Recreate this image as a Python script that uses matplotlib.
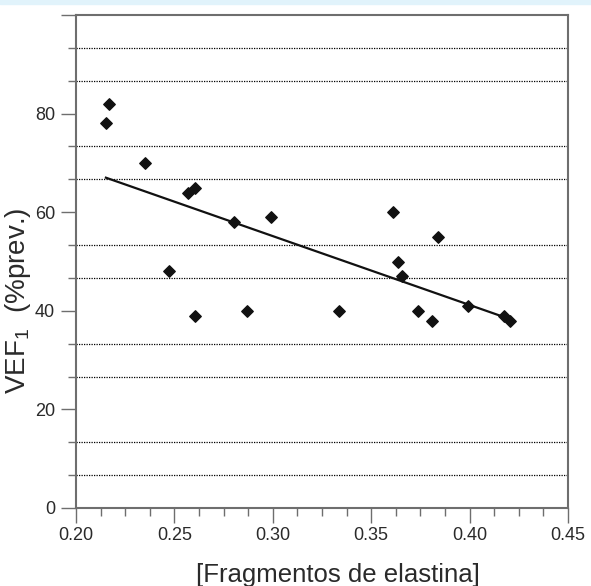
import numpy as np
import matplotlib
matplotlib.use("Agg")
import matplotlib.pyplot as plt
from matplotlib.ticker import MultipleLocator, FixedLocator

# elastin fragments vs FEV1 (% predicted)
frag = [0.2152, 0.2169, 0.2352, 0.2473, 0.2571, 0.2606, 0.2606, 0.2805, 0.2869, 0.2989,
        0.3338, 0.3609, 0.3638, 0.3656, 0.3736, 0.3807, 0.3839, 0.3990, 0.4176, 0.4206]
vef = [78.0, 82.0, 70.0, 48.0, 63.9, 65.0, 38.9, 58.0, 40.0, 59.0,
       40.0, 60.0, 49.9, 47.0, 40.0, 38.0, 55.0, 41.0, 39.0, 38.0]
fit_x = [0.2152, 0.4206]
fit_y = [67.0, 38.3]

xticks = [0.20, 0.25, 0.30, 0.35, 0.40, 0.45]
yticks = [0, 20, 40, 60, 80]

plt.rcParams["font.family"] = ["Liberation Sans", "DejaVu Sans"]
txt = "#2a2a2a"
edge = "#6e6e6e"

fig = plt.figure(figsize=(5.91, 5.86), dpi=100)
fig.patches.append(plt.Rectangle((0, 1 - 4 / 586), 1, 4 / 586, transform=fig.transFigure,
                                 color="#e1f3fb", zorder=0))
ax = fig.add_axes([76 / 591, 1 - 508 / 586, 492 / 591, 493 / 586])

for v in np.arange(20 / 3, 100, 20 / 3):
    if abs(v / 20 - round(v / 20)) > 0.01:
        ax.axhline(v, color="black", lw=0.9, ls=(0, (1, 1)), zorder=1)

ax.plot(fit_x, fit_y, color="#111111", lw=1.6, zorder=2)
ax.scatter(frag, vef, marker="D", s=34, color="#111111", zorder=3)

ax.set_xlim(0.20, 0.45)
ax.set_ylim(0, 100)
ax.set_xticks(xticks)
ax.set_xticklabels(["%.2f" % t for t in xticks])
ax.xaxis.set_minor_locator(MultipleLocator(0.0125))
ax.yaxis.set_major_locator(FixedLocator(yticks + [100]))
ax.set_yticklabels([str(t) for t in yticks] + [""])
ax.yaxis.set_minor_locator(MultipleLocator(20 / 3))

ax.tick_params(which="major", direction="out", length=11, width=1.0, color=edge,
               labelsize=13, labelcolor=txt, pad=3)
ax.tick_params(axis="y", which="major", pad=4)
ax.tick_params(which="minor", direction="out", length=6, width=1.0, color=edge)
for s in ax.spines.values():
    s.set_color(edge)
    s.set_linewidth(1.5)

ax.set_xlabel("[Fragmentos de elastina]", fontsize=18.5, color=txt)
ax.xaxis.set_label_coords(0.5325, -0.111)
ax.set_ylabel("VEF$_\\mathregular{1}$  (%prev.)", fontsize=20, color=txt)
ax.yaxis.set_label_coords(-0.087, 0.42)

fig.savefig("out.png", dpi=100)
